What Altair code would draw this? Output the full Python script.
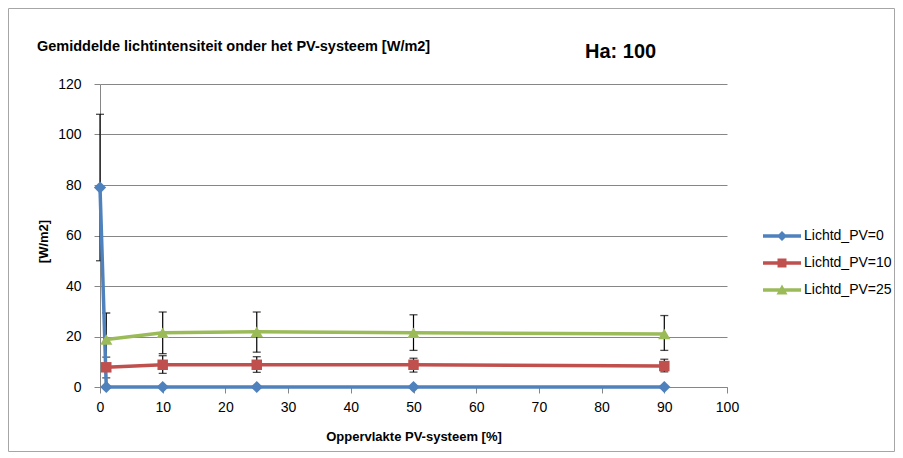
import altair as alt
import pandas as pd

# ---- data ----
series = ["Lichtd_PV=0", "Lichtd_PV=10", "Lichtd_PV=25"]
colors = ["#4F81BD", "#C0504D", "#9BBB59"]
x_vals = [0, 1, 10, 25, 50, 90]

pv0 = [79, 0, 0, 0, 0, 0]
pv0_lo = [50, None, None, None, None, None]
pv0_hi = [108, None, None, None, None, None]

pv10 = [None, 7.8, 8.8, 8.8, 8.8, 8.3]
pv10_lo = [None, 3.6, 5.4, 5.8, 5.9, 6.0]
pv10_hi = [None, 11.8, 12.4, 12.0, 11.4, 11.0]

pv25 = [None, 18.8, 21.5, 21.9, 21.5, 21.0]
pv25_lo = [None, 8.6, 13.2, 13.8, 14.5, 14.5]
pv25_hi = [None, 29.3, 29.7, 29.7, 28.6, 28.3]

x_ticks = [0, 10, 20, 30, 40, 50, 60, 70, 80, 90, 100]
y_ticks = [0, 20, 40, 60, 80, 100, 120]

title_text = "Gemiddelde lichtintensiteit  onder het PV-systeem [W/m2]"
ha_text = "Ha: 100"
x_title = "Oppervlakte PV-systeem [%]"
y_title = "[W/m2]"

rows = []
for name, ys_, los, his in [(series[0], pv0, pv0_lo, pv0_hi),
                            (series[1], pv10, pv10_lo, pv10_hi),
                            (series[2], pv25, pv25_lo, pv25_hi)]:
    for x, y, lo, hi in zip(x_vals, ys_, los, his):
        if y is None:
            continue
        rows.append({"series": name, "x": x, "y": y, "lo": lo, "hi": hi})
df = pd.DataFrame(rows)

FONT = "Liberation Sans"

color_scale = alt.Scale(domain=series, range=colors)
xs = alt.X("x:Q", scale=alt.Scale(domain=[0, 100], nice=False),
           axis=alt.Axis(values=x_ticks, title=x_title, grid=False,
                         labelFlush=False, labelOverlap=False,
                         titleFontWeight="bold", titleFontSize=13,
                         titleY=49, titleBaseline="middle",
                         labelPadding=7))
ys = alt.Y("y:Q", scale=alt.Scale(domain=[0, 120], nice=False),
           axis=alt.Axis(values=y_ticks, title=y_title, grid=True,
                         labelFlush=False, labelOverlap=False,
                         titleFontWeight="bold", titleFontSize=13,
                         titleX=-57, titleY=157, titleAlign="center",
                         titleBaseline="middle", labelPadding=13))

base = alt.Chart(df)

# legend layer (invisible marks, provides the legend only)
line_part = "M-3.8,-0.34H3.8V0.34H-3.8Z"
legend_paths = [
    line_part + " M0,-1L1,0L0,1L-1,0Z",
    line_part + " M-0.9,-0.9H0.9V0.9H-0.9Z",
    line_part + " M0,-1.1L1.1,0.9L-1.1,0.9Z",
]
leg = alt.Legend(title=None, orient="none", legendX=675, legendY=145,
                 labelFont=FONT, labelFontSize=14, labelColor="black",
                 labelOffset=15, rowPadding=13, symbolSize=100,
                 symbolOpacity=1, symbolStrokeWidth=0, padding=0)
legend_layer = base.mark_point(
    filled=True, size=100, opacity=0, strokeWidth=0).encode(
    x=xs, y=ys,
    color=alt.Color("series:N", scale=color_scale, legend=leg),
    shape=alt.Shape("series:N", scale=alt.Scale(domain=series, range=legend_paths), legend=leg))

err = base.transform_filter("isValid(datum.lo)")
err_rule = err.mark_rule(color="black", strokeWidth=1.2).encode(
    x="x:Q", y="lo:Q", y2="hi:Q")
cap_hi = err.mark_tick(color="black", orient="horizontal", size=8, thickness=1.3).encode(
    x="x:Q", y="hi:Q")
cap_lo = err.mark_tick(color="black", orient="horizontal", size=8, thickness=1.3).encode(
    x="x:Q", y="lo:Q")

shapes = ["diamond", "square", "triangle-up"]
sizes = [150, 110, 150]
line_layers = []
point_layers = []
for s, c, shp, sz in zip(series, colors, shapes, sizes):
    sub = base.transform_filter(alt.datum.series == s)
    line_layers.append(sub.mark_line(strokeWidth=3.5, color=c).encode(
        x="x:Q", y="y:Q", order="x:Q"))
    point_layers.append(sub.mark_point(shape=shp, filled=True, size=sz, opacity=1,
                                       strokeWidth=0, color=c).encode(x="x:Q", y="y:Q"))

tdf = pd.DataFrame({"t": [title_text]})
title_layer = alt.Chart(tdf).mark_text(
    align="left", baseline="middle", font=FONT, fontSize=14.5,
    fontWeight="bold", color="black").encode(
    text="t:N", x=alt.value(-63), y=alt.value(-37))

hdf = pd.DataFrame({"t": [ha_text]})
ha_layer = alt.Chart(hdf).mark_text(
    align="left", baseline="middle", font=FONT, fontSize=20,
    fontWeight="bold", color="black").encode(
    text="t:N", x=alt.value(485), y=alt.value(-32))

bdf = pd.DataFrame({"t": [0]})
border = alt.Chart(bdf).mark_rect(fillOpacity=0, stroke="#A6A6A6", strokeWidth=1).encode(
    x=alt.value(-91.5), x2=alt.value(794.5), y=alt.value(-75.5), y2=alt.value(367.5))

chart = alt.layer(
    legend_layer, border, err_rule, cap_hi, cap_lo, *line_layers, *point_layers,
    title_layer, ha_layer
).properties(
    width=627, height=303,
    autosize=alt.AutoSizeParams(type="none"),
    padding={"left": 92, "top": 76, "right": 168, "bottom": 65},
    background="white",
).configure_view(stroke=None).configure_axis(
    labelFont=FONT, titleFont=FONT, labelFontSize=14, labelColor="black",
    titleColor="black", domainColor="#868686", tickColor="#868686",
    gridColor="#868686", gridWidth=1, tickSize=6, domainWidth=1,
)

chart.save("out.html", embed_options={"renderer": "svg", "actions": False})
